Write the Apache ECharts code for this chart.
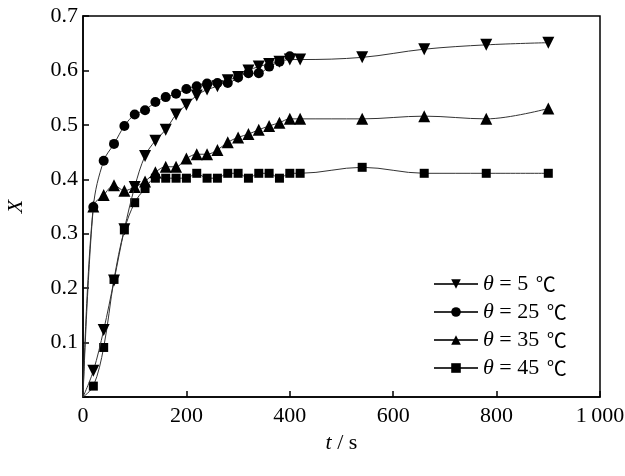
<!DOCTYPE html>
<html>
<head>
<meta charset="utf-8">
<script src="https://cdn.jsdelivr.net/npm/echarts@6/dist/echarts.min.js"></script>
<style>html,body{margin:0;padding:0;background:#fff;}#c{width:625px;height:476px;}</style>
</head>
<body>
<div id="c"></div>
<script>
// time points (s)
var tLong = [0,20,40,60,80,100,120,140,160,180,200,220,240,260,280,300,320,340,360,380,400,420,540,660,780,900];
var tShort = [0,20,40,60,80,100,120,140,160,180,200,220,240,260,280,300,320,340,360,380,400];
// series values X
var x5 = [0,0.048,0.123,0.214,0.308,0.386,0.443,0.471,0.491,0.519,0.537,0.554,0.565,0.571,0.582,0.588,0.600,0.607,0.612,0.616,0.620,0.620,0.624,0.639,0.647,0.651];
var x25 = [0,0.349,0.434,0.465,0.498,0.519,0.527,0.542,0.551,0.557,0.566,0.571,0.576,0.577,0.577,0.587,0.595,0.595,0.607,0.616,0.626];
var x35 = [0,0.350,0.371,0.389,0.379,0.386,0.396,0.413,0.423,0.423,0.438,0.446,0.446,0.454,0.468,0.477,0.483,0.491,0.498,0.504,0.511,0.511,0.511,0.516,0.511,0.530];
var x45 = [0,0.020,0.091,0.216,0.307,0.357,0.383,0.402,0.402,0.402,0.402,0.411,0.402,0.402,0.411,0.411,0.402,0.411,0.411,0.402,0.411,0.411,0.422,0.411,0.411,0.411];
var names = ['θ = 5 ℃','θ = 25 ℃','θ = 35 ℃','θ = 45 ℃'];
var xTickLabels = {0:'0',200:'200',400:'400',600:'600',800:'800',1000:'1\u2009000'};

function pairs(ts, vs){
  return ts.map(function(t,i){
    var d = {value:[t, vs[i]]};
    if (t === 0) d.symbolSize = 0;
    return d;
  });
}
var serif = 'Liberation Serif, Times New Roman, Noto Sans CJK SC, serif';
var cjk = 'Noto Sans CJK SC, sans-serif';
function mk(name, ts, vs, symbol, size, rot, z){
  return {
    name: name, type: 'line', data: pairs(ts, vs),
    smooth: 0.35, symbol: symbol, symbolSize: size, symbolRotate: rot, z: z,
    lineStyle: {color: '#333', width: 1},
    itemStyle: {color: '#000'},
    emphasis: {disabled: true}, animation: false
  };
}
var chart = echarts.init(document.getElementById('c'), null, {renderer:'canvas'});
chart.setOption({
  backgroundColor: '#fff',
  animation: false,
  grid: {left: 83, right: 25, top: 16, bottom: 79, containLabel: false, outerBoundsMode: 'none', show: true, borderColor: '#000', borderWidth: 1.5, backgroundColor: 'transparent'},
  legend: {
    data: names, orient: 'vertical', left: 428, top: 268, itemWidth: 44, itemHeight: 12, itemGap: 6,
    formatter: function(n){ return n.replace('θ','{i|θ}').replace('℃','{c|℃}'); },
    textStyle: {fontFamily: serif, fontSize: 22, color: '#000', lineHeight: 22,
      rich: {i: {fontFamily: serif, fontStyle: 'italic', fontSize: 22, color: '#000'},
             c: {fontFamily: cjk, fontSize: 20, color: '#000', padding: [0,0,0,2]}}}
  },
  xAxis: {
    type: 'value', min: 0, max: 1000, interval: 200,
    name: '{i|t} / s', nameLocation: 'middle', nameGap: 34,
    nameTextStyle: {fontFamily: serif, fontSize: 22, color: '#000', rich: {i: {fontFamily: serif, fontStyle: 'italic', fontSize: 22}}},
    axisLine: {lineStyle: {color: '#000', width: 1.5}},
    axisTick: {inside: true, length: 6, lineStyle: {color: '#000', width: 1.5}},
    axisLabel: {margin: 8, fontFamily: serif, fontSize: 22, color: '#000', formatter: function(v){ return xTickLabels[v] || ''; }},
    splitLine: {show: false}
  },
  yAxis: {
    type: 'value', min: 0, max: 0.7, interval: 0.1,
    name: 'X', nameLocation: 'middle', nameGap: 56, nameRotate: 90,
    nameTextStyle: {fontFamily: serif, fontSize: 22, fontStyle: 'italic', color: '#000'},
    axisLine: {lineStyle: {color: '#000', width: 1.5}},
    axisTick: {inside: true, length: 6, lineStyle: {color: '#000', width: 1.5}},
    axisLabel: {margin: 5, fontFamily: serif, fontSize: 22, color: '#000', formatter: function(v){ return v === 0 ? '' : v.toFixed(1); }},
    splitLine: {show: false}
  },
  series: [
    mk(names[3], tLong, x45, 'rect', 9, 0, 2),
    mk(names[2], tLong, x35, 'triangle', 12, 0, 3),
    mk(names[0], tLong, x5, 'triangle', 12, 180, 4),
    mk(names[1], tShort, x25, 'circle', 10, 0, 5)
  ]
});
</script>
</body>
</html>
